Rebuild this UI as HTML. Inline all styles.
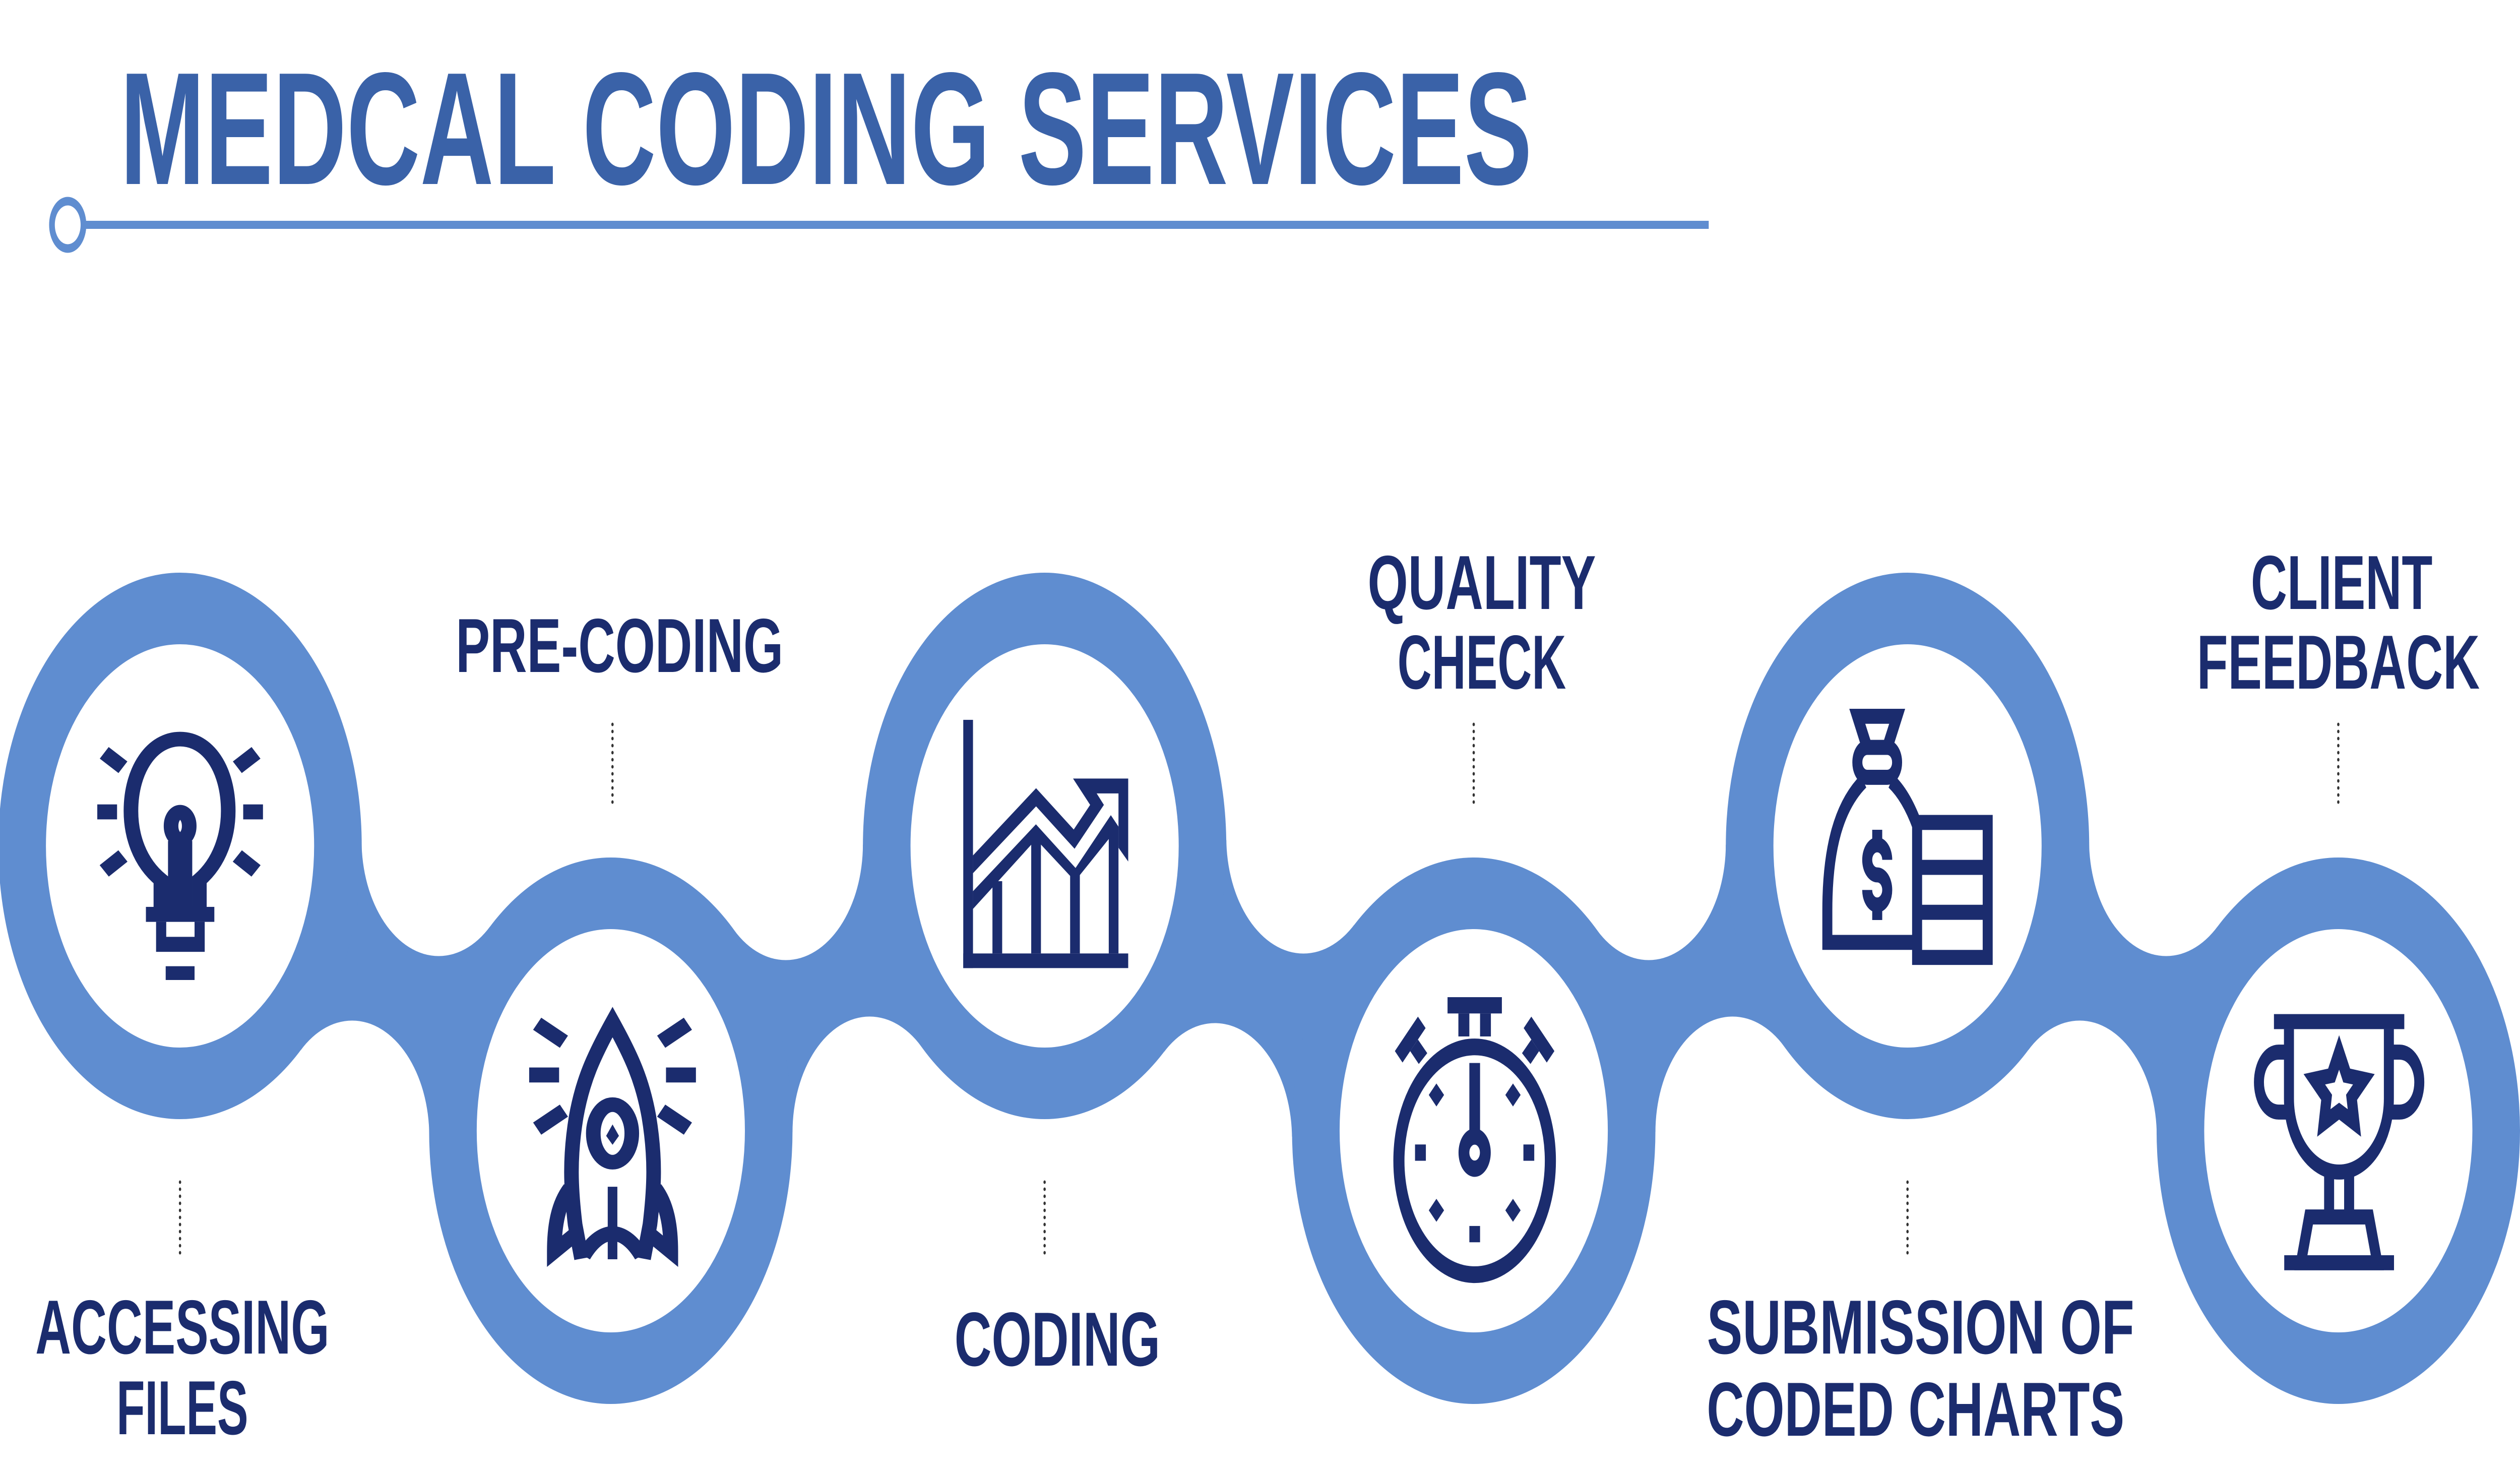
<!DOCTYPE html>
<html><head><meta charset="utf-8"><style>
html,body{margin:0;padding:0;background:#fff;width:100%;height:100%;overflow:hidden;}
svg{display:block;width:100vw;height:100vh;}
text{font-family:"Liberation Sans",sans-serif;font-weight:bold;}
</style></head><body>
<svg viewBox="0 0 7517 2914" preserveAspectRatio="none" xmlns="http://www.w3.org/2000/svg">
<rect width="7517" height="2914" fill="#fff"/>
<text x="358" y="365" font-size="318" fill="#3a62a8" textLength="4212" lengthAdjust="spacingAndGlyphs">MEDCAL CODING SERVICES</text>
<line x1="250" y1="446" x2="5097" y2="446" stroke="#5f8dd0" stroke-width="16"/>
<circle cx="202" cy="446" r="47" fill="#fff" stroke="#5f8dd0" stroke-width="17"/>

<g fill="#5f8dd0">
<polygon points="537,1678 1308.5,1666.5 1822,2243 1050.5,2254.5"/>
<polygon points="1822,2243 2344,1674.5 3116,1678 2594,2246.5"/>
<polygon points="3116,1678 3888,1661.5 4396,2243 3624,2259.5"/>
<polygon points="4396,2243 4918,1674.5 5690,1678 5168,2246.5"/>
<polygon points="5690,1678 6461.5,1666.5 6975,2243 6203.5,2254.5"/>
</g>
<g fill="#fff">
<circle cx="1308.5" cy="1666.5" r="230"/><circle cx="1050.5" cy="2254.5" r="230"/>
<circle cx="2344" cy="1674.5" r="230"/><circle cx="2594" cy="2246.5" r="230"/>
<circle cx="3888" cy="1661.5" r="230"/><circle cx="3624" cy="2259.5" r="230"/>
<circle cx="4918" cy="1674.5" r="230"/><circle cx="5168" cy="2246.5" r="230"/>
<circle cx="6461.5" cy="1666.5" r="230"/><circle cx="6203.5" cy="2254.5" r="230"/>
</g>
<g fill="#5f8dd0">
<circle cx="537" cy="1678" r="542"/><circle cx="1822" cy="2243" r="542"/>
<circle cx="3116" cy="1678" r="542"/><circle cx="4396" cy="2243" r="542"/>
<circle cx="5690" cy="1678" r="542"/><circle cx="6975" cy="2243" r="542"/>
</g>
<g fill="#fff">
<circle cx="537" cy="1678" r="400"/><circle cx="1822" cy="2243" r="400"/>
<circle cx="3116" cy="1678" r="400"/><circle cx="4396" cy="2243" r="400"/>
<circle cx="5690" cy="1678" r="400"/><circle cx="6975" cy="2243" r="400"/>
</g>

<g transform="translate(0,1050) scale(1.5944,1.1888)" fill="none" stroke="#1b2c6e">
<path vector-effect="non-scaling-stroke" stroke-width="29" d="M301,630 L301,585 C260,555 245,510 245,470 C245,400 285,350 337,350 C389,350 427,400 427,470 C427,510 412,555 373,585 L373,630"/>
<ellipse vector-effect="non-scaling-stroke" stroke-width="29" cx="337" cy="495" rx="17" ry="23"/>
<line vector-effect="non-scaling-stroke" stroke-width="29" x1="328" y1="520" x2="328" y2="630"/>
<line vector-effect="non-scaling-stroke" stroke-width="29" x1="346" y1="520" x2="346" y2="630"/>
<line vector-effect="non-scaling-stroke" stroke-width="29" x1="195" y1="373" x2="230" y2="397"/>
<line vector-effect="non-scaling-stroke" stroke-width="29" x1="195" y1="570" x2="230" y2="545"/>
<line vector-effect="non-scaling-stroke" stroke-width="29" x1="479" y1="373" x2="444" y2="397"/>
<line vector-effect="non-scaling-stroke" stroke-width="29" x1="479" y1="570" x2="444" y2="545"/>
<path vector-effect="non-scaling-stroke" stroke-width="29" d="M1088,1217 L1076,1160 C1068,1100 1065,1050 1078,980 C1090,920 1110,880 1146,822 C1182,880 1202,920 1214,980 C1227,1050 1224,1100 1216,1160 L1204,1217"/>
<path vector-effect="non-scaling-stroke" stroke-width="29" d="M1066,1100 C1045,1125 1037,1160 1037,1205 L1078,1175 M1226,1100 C1247,1125 1255,1160 1255,1205 L1214,1175"/>
<path vector-effect="non-scaling-stroke" stroke-width="29" d="M1092,1212 C1110,1185 1130,1175 1146,1175 C1162,1175 1182,1185 1200,1212"/>
<ellipse vector-effect="non-scaling-stroke" stroke-width="29" cx="1146" cy="1008" rx="36" ry="48"/>
<line vector-effect="non-scaling-stroke" stroke-width="29" x1="1005" y1="825" x2="1055" y2="855"/>
<line vector-effect="non-scaling-stroke" stroke-width="29" x1="1005" y1="1000" x2="1055" y2="970"/>
<line vector-effect="non-scaling-stroke" stroke-width="29" x1="1287" y1="825" x2="1237" y2="855"/>
<line vector-effect="non-scaling-stroke" stroke-width="29" x1="1287" y1="1000" x2="1237" y2="970"/>
<g fill="#1b2c6e" stroke="none">
<rect x="182" y="459" width="37" height="25"/><rect x="455" y="459" width="37" height="25"/>
<rect x="273" y="630" width="128" height="25"/>
<path d="M292,655 H383 V705 H292 Z M311,655 V680 H364 V655 Z" fill-rule="evenodd"/>
<rect x="310" y="729" width="54" height="23"/>
<rect x="1137" y="1097" width="18" height="121"/>
<polygon points="1146,993 1158,1012 1146,1027 1134,1012"/>
<rect x="990" y="898" width="56" height="25"/><rect x="1246" y="898" width="56" height="25"/>
</g>
</g>

<g transform="translate(2800,1350) scale(0.4145)" fill="#1b2c6e">
<rect x="177" y="188" width="70" height="1188"/>
<rect x="177" y="1306" width="1187" height="70"/>
<polygon points="247,837 701,515 972,713 1090,595 967,469 1364,469 1364,866 1294,800 1294,540 1137,540 1189,595 978,805 701,602 247,922"/>
<polygon points="247,1008 700,688 985,897 1239,644 1294,699 1294,790 1224,758 981,960 701,760 247,1093"/>
<rect x="387" y="960" width="70" height="346"/>
<rect x="666" y="740" width="70" height="566"/>
<rect x="946" y="930" width="70" height="376"/>
<rect x="1224" y="700" width="70" height="606"/>
</g>

<g transform="translate(4080,1920) scale(0.4145)" fill="#1b2c6e">
<circle cx="769" cy="923" r="545" fill="none" stroke="#1b2c6e" stroke-width="80"/>
<rect x="574" y="140" width="391" height="78"/>
<rect x="652" y="218" width="79" height="110"/><rect x="808" y="218" width="78" height="110"/>
<polygon points="195,398 361,233 416,288 250,453"/>
<polygon points="305,398 361,343 428,408 367,460"/>
<polygon points="1343,398 1177,233 1122,288 1288,453"/>
<polygon points="1233,398 1177,343 1110,408 1171,460"/>
<rect x="731" y="455" width="77" height="330"/>
<circle cx="769" cy="884" r="77" fill="none" stroke="#1b2c6e" stroke-width="78"/>
<rect x="340" y="845" width="78" height="78"/><rect x="1120" y="845" width="78" height="78"/>
<rect x="731" y="1235" width="77" height="78"/>
<polygon points="494,553 549,608 494,663 439,608"/>
<polygon points="1045,553 1100,608 1045,663 990,608"/>
<polygon points="494,1105 549,1160 494,1215 439,1160"/>
<polygon points="1045,1105 1100,1160 1045,1215 990,1160"/>
</g>

<g transform="translate(5370,1350) scale(0.4145)" fill="none" stroke="#1b2c6e" stroke-width="72">
<path fill="#1b2c6e" stroke="none" fill-rule="evenodd" d="M353,135 H755 L678,297 H430 Z M468,207 L505,284 H603 L640,207 Z"/>
<rect x="411" y="320" width="286" height="143" rx="71"/>
<path d="M841,1253 L195,1253 L195,1100 C195,800 280,600 455,482 M655,482 C730,530 790,600 840,690"/>
<rect x="841" y="679" width="508" height="646"/>
<line x1="841" y1="894" x2="1349" y2="894"/><line x1="841" y1="1109" x2="1349" y2="1109"/>
<path d="M626,858 A72,72 0 1 0 554,930 A72,72 0 1 1 482,1002"/>
<line x1="554" y1="714" x2="554" y2="786"/><line x1="554" y1="1074" x2="554" y2="1146"/>
</g>

<g transform="translate(6650,1920) scale(0.4145)" fill="none" stroke="#1b2c6e" stroke-width="72">
<rect x="321" y="221" width="938" height="72" fill="#1b2c6e" stroke="none"/>
<path d="M429,293 L429,625 C429,820 590,977 790,977 C990,977 1148,820 1148,625 L1148,293"/>
<path d="M429,403 L355,403 C270,403 213,470 213,547 C213,625 270,690 355,690 L429,690"/>
<path d="M1151,403 L1225,403 C1310,403 1367,470 1367,547 C1367,625 1310,690 1225,690 L1151,690"/>
<rect x="682" y="990" width="72" height="170" fill="#1b2c6e" stroke="none"/>
<rect x="826" y="990" width="72" height="170" fill="#1b2c6e" stroke="none"/>
<polygon points="574,1192 1005,1192 1065,1411 515,1411"/>
<rect x="395" y="1375" width="790" height="72" fill="#1b2c6e" stroke="none"/>
<path fill="#1b2c6e" stroke="none" fill-rule="evenodd" d="M790,322 L869,482 L1046,508 L919,632 L948,808 L790,726 L632,808 L661,632 L534,508 L711,482 Z M790,487 L759,548 L689,558 L739,607 L728,676 L790,645 L852,676 L840,607 L890,558 L820,548 Z"/>
</g>

<g stroke="#333" stroke-width="7" stroke-linecap="round" stroke-dasharray="0 14">
<line x1="537" y1="2345" x2="537" y2="2495"/>
<line x1="1827" y1="1437" x2="1827" y2="1595"/>
<line x1="3116" y1="2345" x2="3116" y2="2495"/>
<line x1="4396" y1="1437" x2="4396" y2="1595"/>
<line x1="5690" y1="2345" x2="5690" y2="2495"/>
<line x1="6975" y1="1437" x2="6975" y2="1595"/>
</g>

<g fill="#1b2c6e" font-size="152" text-anchor="middle">
<text x="544" y="2685" textLength="877" lengthAdjust="spacingAndGlyphs">ACCESSING</text>
<text x="544" y="2845" textLength="393" lengthAdjust="spacingAndGlyphs">FILES</text>
<text x="1848" y="1333" textLength="977" lengthAdjust="spacingAndGlyphs">PRE-CODING</text>
<text x="3154" y="2709" textLength="614" lengthAdjust="spacingAndGlyphs">CODING</text>
<text x="4420" y="1208" textLength="681" lengthAdjust="spacingAndGlyphs">QUALITY</text>
<text x="4420" y="1366" textLength="503" lengthAdjust="spacingAndGlyphs">CHECK</text>
<text x="5729" y="2685" textLength="1275" lengthAdjust="spacingAndGlyphs">SUBMISSION OF</text>
<text x="5714" y="2848" textLength="1246" lengthAdjust="spacingAndGlyphs">CODED CHARTS</text>
<text x="6985" y="1208" textLength="542" lengthAdjust="spacingAndGlyphs">CLIENT</text>
<text x="6975" y="1366" textLength="844" lengthAdjust="spacingAndGlyphs">FEEDBACK</text>
</g>
</svg>
</body></html>
